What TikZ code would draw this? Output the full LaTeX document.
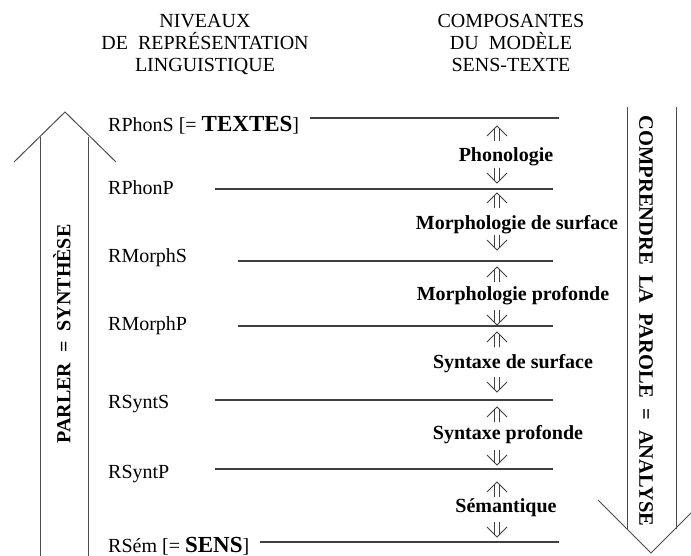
\documentclass[tikz,border=0pt]{standalone}
\usepackage{fontspec}
\setmainfont{Liberation Serif}
\begin{document}
\begin{tikzpicture}[x=1pt,y=-1pt,
  lvl/.style={anchor=base west, inner sep=0pt, font=\fontsize{20}{24}\selectfont},
  comp/.style={anchor=base, inner sep=0pt, font=\bfseries\fontsize{20}{24}\selectfont},
  hdr/.style={anchor=base, inner sep=0pt, font=\fontsize{20}{22}\selectfont},
  lvlline/.style={draw=black!75, line width=1.2pt},
  bigarrow/.style={draw=black!70, line width=1pt},
  side/.style={inner sep=0pt, font=\bfseries\fontsize{20}{24}\selectfont},
  uparr/.pic={\draw[black!75, line width=0.9pt] (-10,10) -- (0,0) -- (10,10)
                (-2.5,3) -- (-2.5,15) (2.5,3) -- (2.5,15);},
  dnarr/.pic={\draw[black!75, line width=0.9pt] (-10,-10) -- (0,0) -- (10,-10)
                (-2.5,-3) -- (-2.5,-15) (2.5,-3) -- (2.5,-15);}
]
\useasboundingbox (0,0) rectangle (691,556);
\clip (0,0) rectangle (691,556);
\fill[white] (0,0) rectangle (691,556);

% headers
\node[hdr] (h1) at (205,28) {NIVEAUX};
\node[hdr] (h2) at (205,50) {DE\ \ REPRÉSENTATION};
\node[hdr] (h3) at (205,72) {LINGUISTIQUE};
\node[hdr] (h4) at (511,28) {COMPOSANTES};
\node[hdr] (h5) at (511,50) {DU\ \ MODÈLE};
\node[hdr] (h6) at (511,72) {SENS-TEXTE};

% left big arrow (up)
\draw[bigarrow] (14,162) -- (65,112) -- (116,162);
\draw[bigarrow] (40,137) -- (40,556);
\draw[bigarrow] (88,137) -- (88,556);
\node[side, rotate=90] (parler) at (62,334) {PARLER\ \ =\ \ SYNTHÈSE};

% right big arrow (down)
\draw[bigarrow] (598,500) -- (651,553) -- (704,500);
\draw[bigarrow] (627,107) -- (627,529);
\draw[bigarrow] (676,107) -- (676,529);
\node[side, rotate=-90, font=\bfseries\fontsize{20.5}{24}\selectfont] (compr) at (646,321) {COMPRENDRE\ \ LA\ \ PAROLE\ \ =\ \ ANALYSE};

% levels
\node[lvl] (rphons) at (108,132) {RPhonS [= {\bfseries\fontsize{23}{24}\selectfont TEXTES}]};
\node[lvl] (rphonp) at (108,195) {RPhonP};
\node[lvl] (rmorphs) at (108,263) {RMorphS};
\node[lvl] (rmorphp) at (108,330) {RMorphP};
\node[lvl] (rsynts) at (108,408) {RSyntS};
\node[lvl] (rsyntp) at (108,478) {RSyntP};
\node[lvl] (rsem) at (108,552) {RSém [= {\bfseries\fontsize{23}{24}\selectfont SENS}]};

\coordinate (l1a) at (310,118); \coordinate (l1b) at (559,118);
\coordinate (l2a) at (215,189); \coordinate (l2b) at (553,189);
\coordinate (l3a) at (238,261); \coordinate (l3b) at (553,261);
\coordinate (l4a) at (238,326); \coordinate (l4b) at (553,326);
\coordinate (l5a) at (215,400); \coordinate (l5b) at (553,400);
\coordinate (l6a) at (215,469); \coordinate (l6b) at (553,469);
\coordinate (l7a) at (260,542); \coordinate (l7b) at (559,542);
\foreach \i in {1,...,7} \draw[lvlline] (l\i a) -- (l\i b);

% components
\node[comp] (c1) at (506,162) {Phonologie};
\node[comp] (c2) at (517,230) {Morphologie de surface};
\node[comp] (c3) at (513,301) {Morphologie profonde};
\node[comp] (c4) at (513,368) {Syntaxe de surface};
\node[comp] (c5) at (508,439) {Syntaxe profonde};
\node[comp] (c6) at (506,512) {Sémantique};

% small arrows
\foreach \u/\d in {126/183, 193/250, 267/325, 332/392, 407/465, 482/537} {
  \pic at (497,\u) {uparr};
  \pic at (497,\d) {dnarr};
}
\end{tikzpicture}
\end{document}
